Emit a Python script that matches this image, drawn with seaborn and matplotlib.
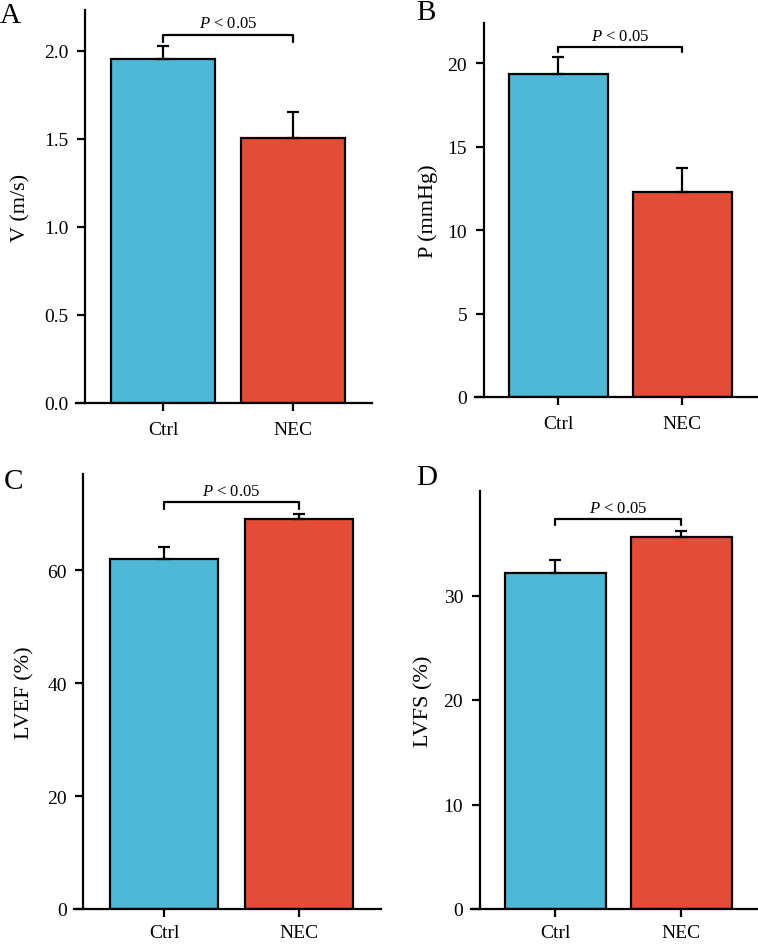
import numpy as np
import pandas as pd
import matplotlib
matplotlib.use("Agg")
import matplotlib.pyplot as plt
import seaborn as sns

# ---- data ----
groups = ["Ctrl", "NEC"]
v_mean = [1.95, 1.505]
v_err = [0.077, 0.148]
p_mean = [19.35, 12.25]
p_err = [1.0, 1.45]
lvef_mean = [62.0, 69.1]
lvef_err = [2.1, 0.8]
lvfs_mean = [32.15, 35.6]
lvfs_err = [1.2, 0.55]
ylabels = ["V (m/s)", "P (mmHg)", "LVEF (%)", "LVFS (%)"]
letters = ["A", "B", "C", "D"]
yticks_list = [[0.0, 0.5, 1.0, 1.5, 2.0], [0, 5, 10, 15, 20], [0, 20, 40, 60], [0, 10, 20, 30]]
ytick_fmt = ["{:.1f}", "{:d}", "{:d}", "{:d}"]
ylims = [2.23, 22.4, 77, 40]
bracket_y = [2.09, 20.96, 72.0, 37.3]
bracket_drop = [2.05, 20.66, 70.8, 36.7]
p_text = r"$P$ < 0.05"

colors = ["#4DB9D6", "#E34C36"]

sns.set_theme(style="white")
plt.rcParams["font.family"] = ["Liberation Serif", "DejaVu Serif"]
plt.rcParams["mathtext.fontset"] = "custom"
plt.rcParams["mathtext.rm"] = "Liberation Serif"
plt.rcParams["mathtext.it"] = "Liberation Serif:italic"

W, H = 758, 945
fig = plt.figure(figsize=(W / 100, H / 100), dpi=100)

# axes rectangles in pixels: left, right, top, bottom
rects = [(76, 372, 11, 404), (475, 758, 24, 398), (74, 381, 475, 910), (471, 758, 492, 910)]
letter_pos = [(0, 16), (416, 13), (4, 482), (416, 478)]
ylabel_x = [21, 428, 25, 424]
xpads = [7, 7, 4.5, 4.5]

means_all = [v_mean, p_mean, lvef_mean, lvfs_mean]
errs_all = [v_err, p_err, lvef_err, lvfs_err]
lw = 1.6

for i in range(4):
    l, r, t, b = rects[i]
    ax = fig.add_axes([l / W, 1 - b / H, (r - l) / W, (b - t) / H])
    df = pd.DataFrame({"group": groups, "value": means_all[i]})
    sns.barplot(data=df, x="group", y="value", hue="group", palette=colors,
                width=0.8, edgecolor="black", linewidth=lw, errorbar=None,
                legend=False, ax=ax, saturation=1)
    xs = np.arange(len(groups))
    ax.errorbar(xs, means_all[i], yerr=[np.zeros(len(groups)), errs_all[i]],
                fmt="none", ecolor="black", elinewidth=lw, capsize=4.5, capthick=lw, zorder=1)
    ax.set_xlim(-0.67, 1.61)
    ax.set_ylim(0, ylims[i])
    ax.spines["left"].set_position(("data", -0.6))
    for s in ["top", "right"]:
        ax.spines[s].set_visible(False)
    for s in ["left", "bottom"]:
        ax.spines[s].set_linewidth(lw)
        ax.spines[s].set_color("black")
    ax.set_yticks(yticks_list[i])
    ax.set_yticklabels([ytick_fmt[i].format(v) for v in yticks_list[i]])
    ax.tick_params(axis="y", left=True, length=6, width=lw, pad=6, labelsize=14, colors="black")
    ax.tick_params(axis="x", bottom=True, length=6, width=lw, pad=xpads[i], labelsize=14, colors="black")
    ax.set_xlabel("")
    ax.set_ylabel(ylabels[i], fontsize=16, color="black")
    ax.yaxis.label.set_va("center")
    ax.yaxis.set_label_coords((ylabel_x[i] - l) / (r - l), 0.5)
    # significance bracket
    ax.plot([0, 0, 1, 1], [bracket_drop[i], bracket_y[i], bracket_y[i], bracket_drop[i]],
            color="black", lw=lw, clip_on=False)
    ax.annotate(p_text, xy=(0.5, bracket_y[i]), xytext=(0, 2.5), textcoords="offset points",
                ha="center", va="bottom", fontsize=12, color="black", annotation_clip=False)
    lx, ly = letter_pos[i]
    fig.text(lx / W, 1 - ly / H, letters[i], fontsize=21, ha="left", va="center", color="black")

fig.savefig("out.png", dpi=100)
